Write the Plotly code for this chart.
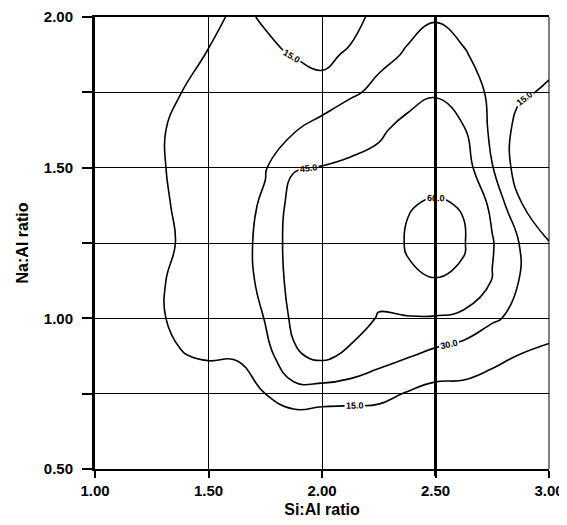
import plotly.graph_objects as go

# Si:Al ratio (x) and Na:Al ratio (y) grid
si_al = [1.0, 1.125, 1.25, 1.375, 1.5, 1.625, 1.75, 1.875, 2.0,
         2.125, 2.25, 2.375, 2.5, 2.625, 2.75, 2.875, 3.0]
na_al = [0.5, 0.625, 0.75, 0.875, 1.0, 1.125, 1.25, 1.375, 1.5,
         1.625, 1.75, 1.875, 2.0]

# values estimated from the contour picture, one row per Na:Al value
z_values = [
    [3, 4, 4, 4, 4, 4, 3, 3, 3, 3, 4, 5, 6, 6, 6, 6, 5],                                  # 0.500
    [4, 5, 5, 5, 5, 5, 4, 2, 0, 0, 2, 5, 6, 7, 8, 7, 6],                                  # 0.625
    [5, 6, 7, 8, 8, 8, 15, 24, 23, 22, 20, 14, 10, 11, 11, 10, 9],                        # 0.750
    [7, 8, 10, 14.5, 16, 16, 24, 43, 48, 42, 35, 31, 26, 22, 17, 14.5, 13],               # 0.875
    [9, 10, 13, 17, 20, 24, 30.5, 48, 52, 52, 44, 44, 44, 41, 32, 26, 19],                # 1.000
    [10, 11, 13, 17, 21, 25, 33, 51, 53, 54, 50, 58.5, 59.5, 58.5, 44.5, 29, 21],         # 1.125
    [10, 11, 12.5, 15.5, 20, 25, 34, 52, 53, 54, 53, 60.8, 66, 60.8, 46, 29, 15.5],       # 1.250
    [10, 11, 13, 16, 21, 25, 32, 51, 51, 53, 53, 59.5, 61, 59.5, 42, 16, 5],              # 1.375
    [10, 11, 13, 17, 22, 25, 29, 44, 45.5, 47, 49, 54, 56, 52, 30.5, 7, 3],               # 1.500
    [10, 11, 13, 17, 22, 24, 26, 29, 35, 40, 43, 49, 51, 46, 27, 9, 4],                   # 1.625
    [9, 10, 12, 14.8, 20, 22, 22, 22, 22, 28, 33, 40, 44, 38, 27, 17, 13],                # 1.750
    [8, 9, 10, 12, 15.5, 20, 17, 14.5, 10, 18, 27, 31, 36, 31, 25, 22, 19],               # 1.875
    [7, 8, 9, 10, 12, 17, 14, 8, 4, 7, 22, 27, 29, 26, 23, 21, 20],                       # 2.000
]

x_ticks = [1.0, 1.5, 2.0, 2.5, 3.0]
y_ticks = [0.5, 1.0, 1.5, 2.0]
x_heavy = 2.5
x_title = "Si:Al ratio"
y_title = "Na:Al ratio"

fig = go.Figure()
fig.add_trace(go.Contour(
    x=si_al, y=na_al, z=z_values,
    autocontour=False,
    contours=dict(start=15, end=60, size=15, coloring="none",
                  showlabels=True,
                  labelfont=dict(family="Liberation Sans", size=9, color="black", weight="bold"),
                  labelformat=".1f"),
    line=dict(color="black", width=1.6, smoothing=1.3),
    showscale=False,
    hoverinfo="skip",
))

# heavier vertical grid line at Si:Al = 2.5
fig.add_shape(type="line", xref="x", yref="paper", x0=x_heavy, x1=x_heavy,
              y0=-0.016, y1=1, line=dict(color="black", width=3), layer="above")
# right frame line
fig.add_shape(type="line", xref="paper", yref="paper", x0=1, x1=1,
              y0=0, y1=1, line=dict(color="black", width=1), layer="above")

tickfont = dict(family="Liberation Sans", size=15, color="black", weight="bold")
titlefont = dict(family="Liberation Sans", size=16, color="black", weight="bold")
# the page body adds an 8px offset, so the figure is 8px smaller than the window
fig.update_layout(
    width=559, height=517,
    margin=dict(l=87, r=18, t=9, b=56),
    paper_bgcolor="white", plot_bgcolor="white",
    showlegend=False,
    xaxis=dict(range=[1.0, 3.0], tickvals=x_ticks, tickformat=".2f",
               ticks="outside", ticklen=7, tickwidth=1.5, tickcolor="black",
               showgrid=True, gridcolor="black", gridwidth=1,
               showline=True, linecolor="black", linewidth=2, mirror=True,
               zeroline=False, tickfont=tickfont, automargin=False,
               title=dict(text=x_title, font=titlefont, standoff=6)),
    yaxis=dict(range=[0.5, 2.0], tickvals=y_ticks, tickformat=".2f",
               ticks="outside", ticklen=10, tickwidth=1.5, tickcolor="black",
               minor=dict(dtick=0.25, tick0=0.5, ticks="outside", ticklen=10, tickwidth=1.5,
                          tickcolor="black", showgrid=True, gridcolor="black", gridwidth=1),
               showgrid=True, gridcolor="black", gridwidth=1,
               showline=True, linecolor="black", linewidth=3, mirror=False,
               zeroline=False, tickfont=tickfont, ticklabelstandoff=6, automargin=False,
               title=dict(text=y_title, font=titlefont, standoff=12)),
)

fig.write_html("out.html")
